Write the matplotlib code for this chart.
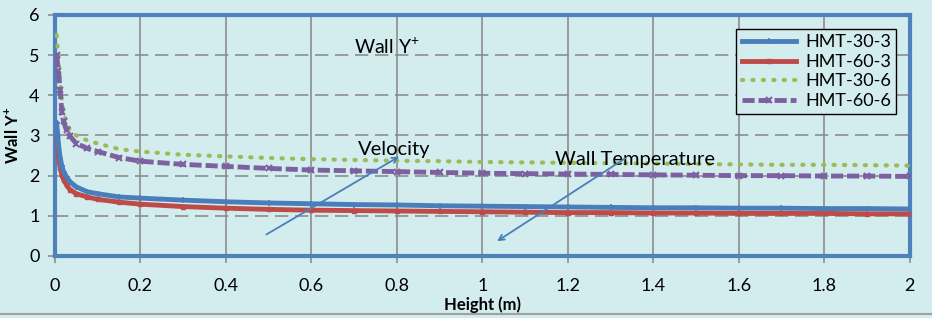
import matplotlib
matplotlib.use("Agg")
import matplotlib.pyplot as plt
from matplotlib.lines import Line2D

plt.rcParams['font.family'] = ['Lato', 'DejaVu Sans']
plt.rcParams['mathtext.fontset'] = 'custom'
plt.rcParams['mathtext.rm'] = 'Lato'
plt.rcParams['mathtext.bf'] = 'Lato:bold'

# ------------------------------------------------ Data ------------------------------------------------ #
height = [0.004, 0.008, 0.012, 0.016, 0.02, 0.027, 0.035, 0.05, 0.075, 0.1, 0.15, 0.2, 0.3, 0.4, 0.5,
          0.6, 0.7, 0.8, 0.9, 1.0, 1.1, 1.2, 1.3, 1.4, 1.5, 1.6, 1.7, 1.8, 1.9, 2.0]

hmt_30_3 = [3.3, 2.8, 2.45, 2.25, 2.1, 1.97, 1.85, 1.72, 1.6, 1.55, 1.47, 1.44, 1.39, 1.35, 1.32,
            1.3, 1.28, 1.27, 1.25, 1.24, 1.23, 1.22, 1.21, 1.2, 1.2, 1.19, 1.19, 1.18, 1.18, 1.17]
hmt_60_3 = [3.0, 2.5, 2.2, 2.02, 1.9, 1.77, 1.65, 1.55, 1.47, 1.41, 1.34, 1.29, 1.23, 1.19, 1.16,
            1.14, 1.13, 1.12, 1.11, 1.1, 1.09, 1.08, 1.08, 1.07, 1.07, 1.06, 1.06, 1.06, 1.05, 1.05]
hmt_30_6 = [5.5, 4.9, 4.3, 3.9, 3.6, 3.3, 3.15, 3.0, 2.88, 2.8, 2.66, 2.6, 2.52, 2.48, 2.44,
            2.41, 2.39, 2.37, 2.36, 2.34, 2.33, 2.32, 2.31, 2.3, 2.29, 2.28, 2.27, 2.27, 2.26, 2.25]
hmt_60_6 = [5.0, 4.6, 4.13, 3.58, 3.35, 3.13, 2.98, 2.8, 2.68, 2.6, 2.45, 2.36, 2.28, 2.23, 2.18,
            2.14, 2.12, 2.1, 2.08, 2.06, 2.05, 2.04, 2.03, 2.02, 2.01, 2.0, 2.0, 1.99, 1.99, 1.98]

x_ticks = [0, 0.2, 0.4, 0.6, 0.8, 1, 1.2, 1.4, 1.6, 1.8, 2]
x_tick_labels = ['0', '0.2', '0.4', '0.6', '0.8', '1', '1.2', '1.4', '1.6', '1.8', '2']
y_ticks = [0, 1, 2, 3, 4, 5, 6]

# ------------------------------------------------ Plot ------------------------------------------------ #
bg = '#d3edef'
fig = plt.figure(figsize=(9.32, 3.18), dpi=100, facecolor=bg)
ax = fig.add_axes([0.059, 0.195, 0.917, 0.758], facecolor=bg)

ax.plot(height, hmt_30_3, color='#4a7ebb', lw=3.5, marker='+', ms=4, mew=1.2, label='HMT-30-3', zorder=4)
ax.plot(height, hmt_60_3, color='#be4b48', lw=3.5, marker='s', ms=2.5, label='HMT-60-3', zorder=3)
ax.plot(height, hmt_30_6, color='#9bbb59', lw=3, ls=(0, (0.3, 2.2)), dash_capstyle='round',
        label='HMT-30-6', zorder=3)
ax.plot(height, hmt_60_6, color='#7d60a0', lw=3.5, ls=(0, (2.5, 0.8)), marker='x', ms=4, mew=1.5,
        label='HMT-60-6', zorder=3)

ax.set_xlim(0, 2)
ax.set_ylim(0, 6)
ax.set_xticks(x_ticks)
ax.set_xticklabels(x_tick_labels)
ax.set_yticks(y_ticks)
ax.tick_params(axis='x', length=5, color='#8c8c8c', width=1.2, pad=11, labelsize=13)
ax.tick_params(axis='y', length=5, color='#8c8c8c', width=1.2, pad=6, labelsize=13)
ax.grid(axis='x', color='#8c8c8c', lw=1.2)
ax.grid(axis='y', color='#8c8c8c', lw=1.2, ls=(0, (8, 4)))
ax.set_axisbelow(True)
for s in ax.spines.values():
    s.set_color('#4f81bd')
    s.set_linewidth(3)

ax.set_ylabel('Wall Y$^{\\mathbf{+}}$', fontweight='bold', fontsize=12, labelpad=6)
fig.text(0.518, 0.043, 'Height (m)', fontweight='bold', fontsize=12, ha='center', va='center')

ax.text(0.70, 5.2, 'Wall Y$^{+}$', fontsize=14, va='center', ha='left')
ax.text(0.71, 2.64, 'Velocity', fontsize=14.5, va='center', ha='left')
ax.text(1.17, 2.39, 'Wall Temperature', fontsize=14.5, va='center', ha='left')
ax.annotate('', xy=(0.811, 2.51), xytext=(0.489, 0.5),
            arrowprops=dict(arrowstyle='->', color='#4a7ebb', lw=1.3))
ax.annotate('', xy=(1.029, 0.33), xytext=(1.34, 2.47),
            arrowprops=dict(arrowstyle='->', color='#4a7ebb', lw=1.3))

leg = ax.legend(loc='upper right', bbox_to_anchor=(0.995, 0.98), fontsize=13, frameon=True,
                fancybox=False, edgecolor='black', facecolor=bg, framealpha=1,
                handlelength=3.0, labelspacing=0.2, borderpad=0.3, handletextpad=0.5)
leg.get_frame().set_linewidth(1)

fig.add_artist(Line2D([0, 1], [0.012, 0.012], color='#a0a0a0', lw=1.5))

fig.savefig('out.png', dpi=100, facecolor=bg)
